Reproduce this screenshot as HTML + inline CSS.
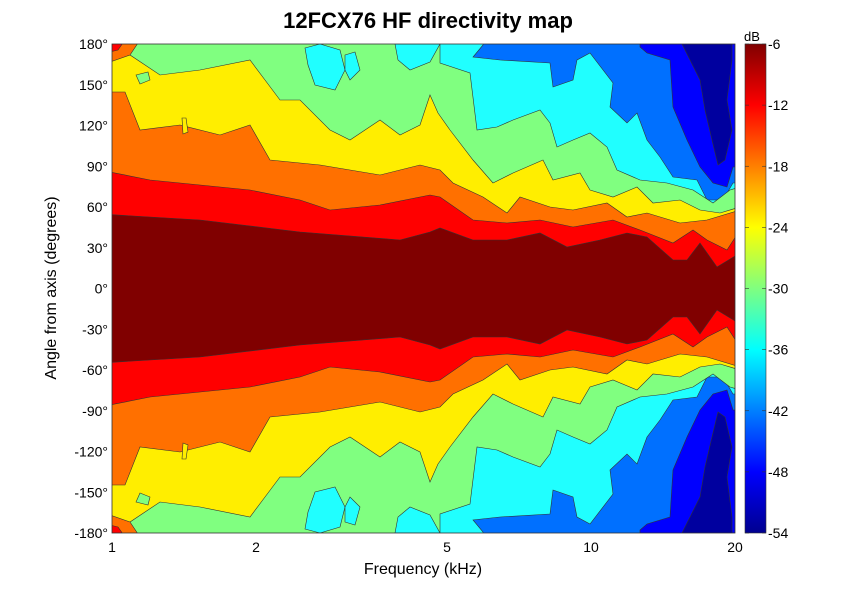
<!DOCTYPE html>
<html><head><meta charset="utf-8"><style>
body{margin:0;background:#fff;}
svg{display:block;font-family:"Liberation Sans",sans-serif;}
</style></head><body>
<svg id="s" width="863" height="600" viewBox="0 0 863 600">
<defs>
<linearGradient id="jet" x1="0" y1="1" x2="0" y2="0">
<stop offset="0" stop-color="#00008f"/>
<stop offset="0.125" stop-color="#0000ff"/>
<stop offset="0.375" stop-color="#00ffff"/>
<stop offset="0.625" stop-color="#ffff00"/>
<stop offset="0.875" stop-color="#ff0000"/>
<stop offset="1" stop-color="#800000"/>
</linearGradient>
<clipPath id="cp"><rect x="112" y="44" width="623" height="489"/></clipPath>
</defs>
<text x="428" y="28" text-anchor="middle" font-size="22" font-weight="bold">12FCX76 HF directivity map</text>
<g id="plot" clip-path="url(#cp)"><rect x="112" y="44" width="623" height="489" fill="#0000ff"/></g>
<rect x="112" y="44" width="623" height="489" fill="none" stroke="#333" stroke-width="0.8"/>
<g font-size="14" text-anchor="end" id="yl"></g>
<g font-size="14" text-anchor="middle">
<text x="112" y="552">1</text><text x="256" y="552">2</text><text x="447" y="552">5</text><text x="591" y="552">10</text><text x="735" y="552">20</text>
</g>
<text x="423" y="574" text-anchor="middle" font-size="16">Frequency (kHz)</text>
<text transform="translate(56,288) rotate(-90)" text-anchor="middle" font-size="16">Angle from axis (degrees)</text>
<rect x="745" y="44" width="21" height="489" fill="url(#jet)" stroke="#333" stroke-width="0.6"/>
<text x="744" y="41" font-size="13">dB</text>
<g font-size="14" id="cl"></g>
</svg>
<script>
var NS="http://www.w3.org/2000/svg",P=document.getElementById("plot");
function add(par,tag,at,txt){var e=document.createElementNS(NS,tag);for(var k in at)e.setAttribute(k,at[k]);if(txt!=null)e.textContent=txt;par.appendChild(e);return e;}
function band(pts,col){var d="M"+pts.map(p=>p[0]+","+p[1]).join(" L");
 var r=pts.slice().reverse();d+=" L"+r.map(p=>p[0]+","+(577-p[1])).join(" L")+" Z";
 add(P,"path",{d:d,fill:col,stroke:"#333","stroke-width":0.6});}
function blob(pts,col){[0,1].forEach(m=>{var d="M"+pts.map(p=>p[0]+","+(m?577-p[1]:p[1])).join(" L")+" Z";add(P,"path",{d:d,fill:col,stroke:"#333","stroke-width":0.6});});}
var T=40;
blob([[680,40],[732,40],[732,60],[727,100],[732,130],[725,160],[718,165],[712,140],[705,110],[700,80],[690,60]],"#00009f");
band([[100,T],[640,T],[640,47],[647,53],[670,60],[673,107],[687,140],[700,167],[713,183],[727,187],[733,167],[740,167]],"#0070ff");
band([[100,T],[460,T],[483,T],[483,45],[473,57],[500,60],[550,63],[553,87],[573,80],[577,60],[590,53],[613,83],[610,107],[627,123],[637,113],[647,140],[660,157],[673,177],[697,180],[707,200],[723,200],[733,183],[740,183]],"#20ffff");
band([[100,T],[440,T],[440,63],[470,73],[477,130],[497,127],[513,120],[540,110],[550,123],[557,147],[573,140],[590,133],[607,147],[617,170],[640,180],[667,183],[693,190],[713,203],[730,190],[740,187]],"#80ff80");
blob([[305,48],[320,44],[340,50],[345,70],[335,90],[315,85],[308,65]],"#20ffff");
blob([[345,55],[355,52],[360,70],[350,80],[345,70]],"#20ffff");
blob([[395,44],[440,44],[430,62],[410,70],[398,60]],"#20ffff");
band([[100,60],[130,55],[160,75],[200,70],[250,60],[265,80],[280,100],[300,100],[330,130],[350,140],[380,120],[400,135],[420,125],[430,95],[438,113],[450,130],[473,160],[493,183],[513,173],[543,160],[553,180],[580,173],[590,190],[613,197],[637,187],[653,203],[680,200],[700,210],[720,213],[740,207]],"#ffee00");
blob([[136,75],[148,72],[150,80],[140,84]],"#80ff80");
band([[100,92],[125,92],[140,130],[180,125],[220,135],[250,125],[270,160],[320,165],[380,175],[420,165],[440,170],[453,183],[483,197],[507,213],[520,197],[550,207],[573,210],[607,203],[627,217],[647,213],[680,223],[707,220],[740,210]],"#ff7000");
blob([[110,40],[140,40],[130,55],[110,62]],"#ff7000");
blob([[110,40],[125,40],[118,50],[110,52]],"#ff0000");
blob([[182,118],[186,118],[188,132],[183,134]],"#ffee00");
band([[100,170],[150,180],[200,185],[250,190],[300,200],[330,210],[380,205],[430,195],[440,197],[473,220],[507,223],[540,220],[573,227],[613,220],[640,230],[673,243],[693,230],[707,240],[727,250],[740,230]],"#ff0000");
band([[100,214],[200,220],[300,232],[400,240],[430,232],[440,228],[473,240],[507,240],[540,233],[567,247],[600,240],[627,233],[647,237],[673,260],[687,260],[700,243],[717,267],[740,253]],"#800000");
var yl=document.getElementById("yl");
for(var a=180;a>=-180;a-=30){var y=288.5-a*244.5/180;add(yl,"text",{x:108,y:y+5},a+"°");}
var cl=document.getElementById("cl");
for(var i=0;i<9;i++){var y=44+i*61.125;add(cl,"text",{x:768,y:y+5},String(-6-6*i));
 add(cl,"line",{x1:745,x2:749,y1:y,y2:y,stroke:"#333","stroke-width":0.6});add(cl,"line",{x1:762,x2:766,y1:y,y2:y,stroke:"#333","stroke-width":0.6});}
</script>
</body></html>
